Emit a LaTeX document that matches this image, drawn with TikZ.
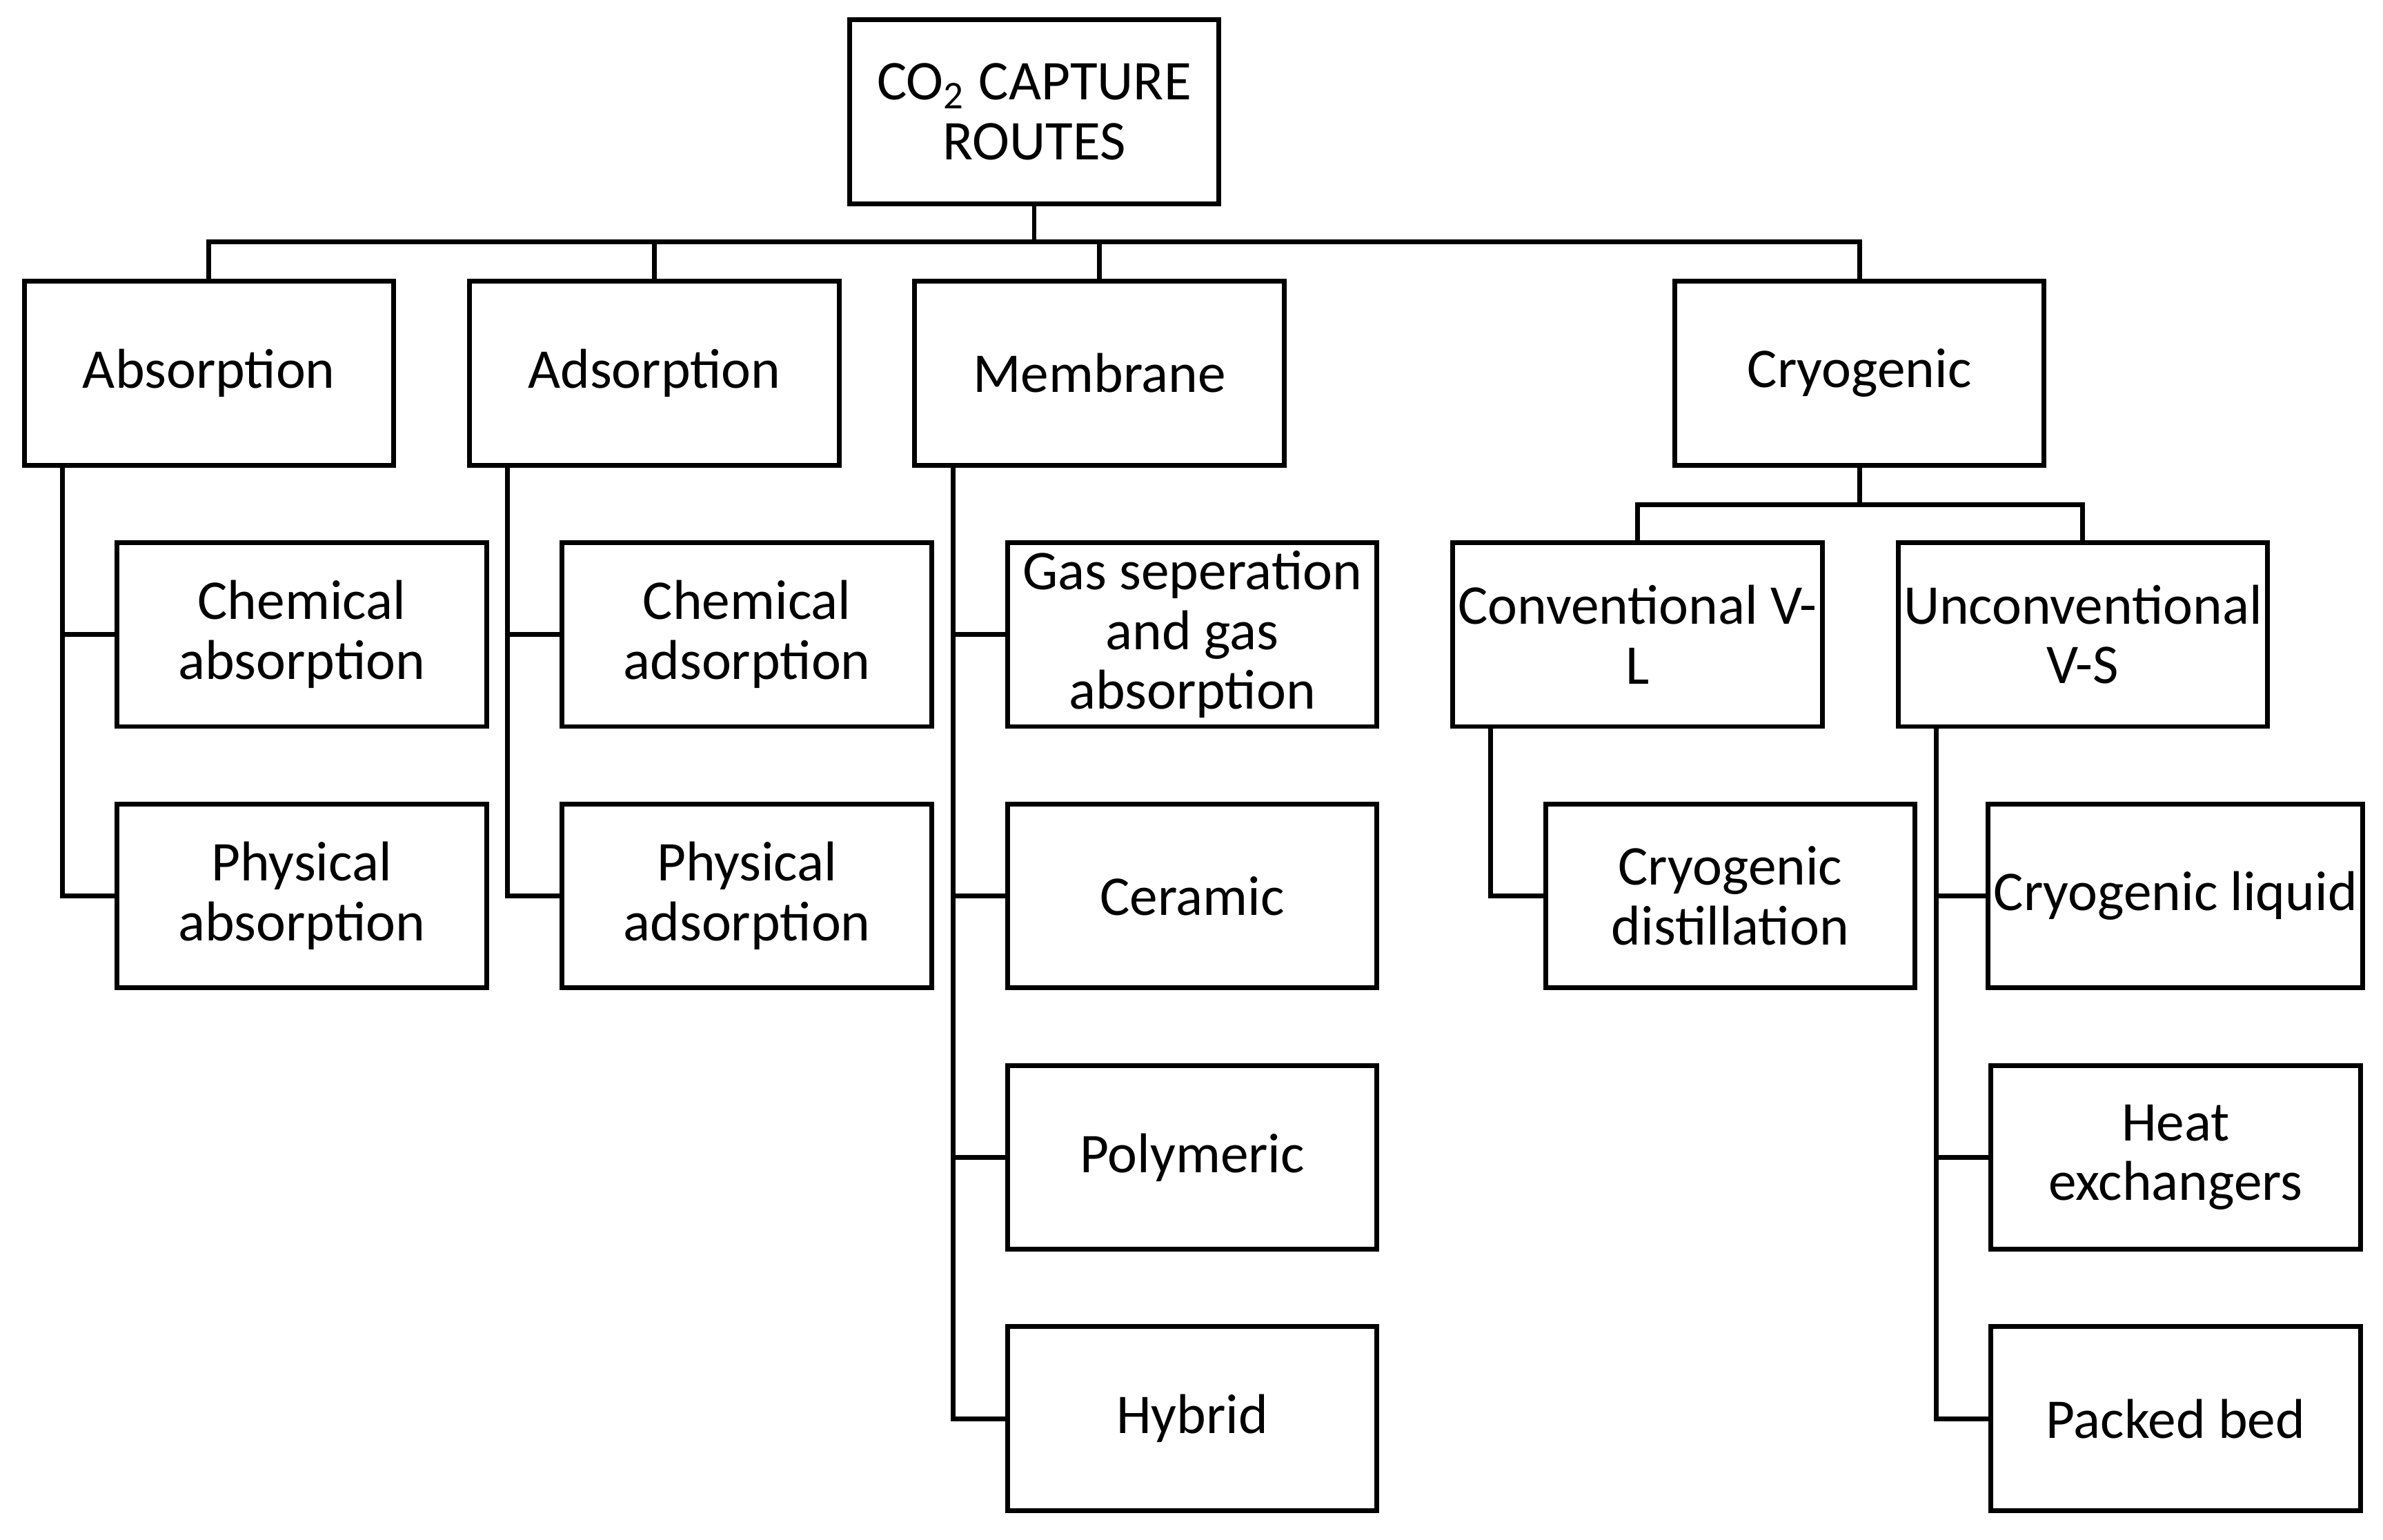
\documentclass[tikz,border=0pt]{standalone}
\usepackage{fontspec}
\setmainfont{Carlito}
\begin{document}
\begin{tikzpicture}[x=0.01cm,y=-0.01cm,
  box/.style={draw,line width=0.9pt,minimum width=2.43cm,minimum height=1.21cm,inner sep=1pt,align=center,font=\fontsize{10.5}{11.2}\selectfont},
  ln/.style={line width=0.9pt}]
\useasboundingbox (0,0) rectangle (1568,1013);
\node[box] (root) at (680.5,73.5) {CO\textsubscript{2} CAPTURE\\ROUTES};
\node[box] (abs) at (137.5,245.5) {Absorption};
\node[box] (ads) at (430.5,245.5) {Adsorption};
\node[box] (mem) at (723.5,245.5) {Membrane};
\node[box] (cry) at (1223.5,245.5) {Cryogenic};
\node[box] (abs1) at (198.5,417.5) {Chemical\\absorption};
\node[box] (abs2) at (198.5,589.5) {Physical\\absorption};
\node[box] (ads1) at (491.5,417.5) {Chemical\\adsorption};
\node[box] (ads2) at (491.5,589.5) {Physical\\adsorption};
\node[box] (mem1) at (784.5,417.5) {Gas seperation\\and gas\\absorption};
\node[box] (mem2) at (784.5,589.5) {Ceramic};
\node[box] (mem3) at (784.5,761.5) {Polymeric};
\node[box] (mem4) at (784.5,933.5) {Hybrid};
\node[box] (conv) at (1077.5,417.5) {Conventional V-\\L};
\node[box] (unc) at (1370.5,417.5) {Unconventional\\V-S};
\node[box] (cd) at (1138.5,589.5) {Cryogenic\\distillation};
\node[box] (u1) at (1431.5,589.5) {Cryogenic liquid};
\node[box] (u2) at (1431.5,761.5) {Heat\\exchangers};
\node[box] (u3) at (1431.5,933.5) {Packed bed};
% top bus
\draw[ln] (root.south) -- (680.5,159);
\draw[ln] (abs.north) -- (137.5,159) -- (1223.5,159) -- (cry.north);
\draw[ln] (ads.north) -- (430.5,159);
\draw[ln] (mem.north) -- (723.5,159);
% cryogenic bus
\draw[ln] (cry.south) -- (1223.5,332);
\draw[ln] (conv.north) -- (1077.5,332) -- (1370.5,332) -- (unc.north);
% spines
\draw[ln] (41,306) -- (41,589.5) -- (abs2.west);
\draw[ln] (41,417.5) -- (abs1.west);
\draw[ln] (334,306) -- (334,589.5) -- (ads2.west);
\draw[ln] (334,417.5) -- (ads1.west);
\draw[ln] (627,306) -- (627,933.5) -- (mem4.west);
\draw[ln] (627,417.5) -- (mem1.west);
\draw[ln] (627,589.5) -- (mem2.west);
\draw[ln] (627,761.5) -- (mem3.west);
\draw[ln] (981,478) -- (981,589.5) -- (cd.west);
\draw[ln] (1274,478) -- (1274,933.5) -- (u3.west);
\draw[ln] (1274,589.5) -- (u1.west);
\draw[ln] (1274,761.5) -- (u2.west);
\end{tikzpicture}
\end{document}
